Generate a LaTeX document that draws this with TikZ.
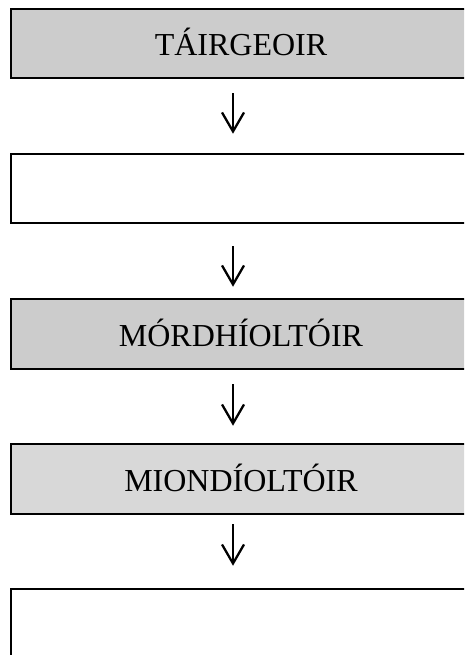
\documentclass[tikz,border=0pt]{standalone}
\usepackage{fontspec}
\setmainfont{Liberation Serif}
\usepackage{xcolor}
\usepackage{tikz}
\usetikzlibrary{arrows.meta, positioning}
\definecolor{boxgray}{HTML}{CCCCCC}
\definecolor{boxlight}{HTML}{D8D8D8}
\tikzset{
    box/.style={rectangle, draw, line width=2.5pt, minimum width=460pt, minimum height=69pt,
      inner sep=0pt, text height=25pt, text depth=0pt,
      font=\fontsize{32}{36}\selectfont},
    flow/.style={-{Straight Barb[length=19pt, width=22pt]}, line width=2.3pt}
}
\begin{document}
\begin{tikzpicture}[x=1pt, y=-1pt]
  \useasboundingbox (0,0) rectangle (464,655);
  \clip (0,0) rectangle (464,655);
  \node[box, fill=boxgray] (tairgeoir) at (241,43.5) {TÁIRGEOIR};
  \node[box] (blank1) at (241,188.5) {};
  \node[box, fill=boxgray, minimum height=70pt] (mordhioltoir) at (241,334) {MÓRDHÍOLTÓIR};
  \node[box, fill=boxlight, minimum height=70pt] (miondioltoir) at (241,479) {MIONDÍOLTÓIR};
  \node[box, minimum height=70pt] (blank2) at (241,624) {};
  % arrows sit a little left of the box centres
  \draw[flow, shorten <=14pt, shorten >=19pt] ([xshift=-8pt]tairgeoir.south) -- ([xshift=-8pt]blank1.north);
  \draw[flow, shorten <=22pt, shorten >=11pt] ([xshift=-8pt]blank1.south) -- ([xshift=-8pt]mordhioltoir.north);
  \draw[flow, shorten <=14pt, shorten >=17pt] ([xshift=-8pt]mordhioltoir.south) -- ([xshift=-8pt]miondioltoir.north);
  \draw[flow, shorten <=9pt, shorten >=22pt] ([xshift=-8pt]miondioltoir.south) -- ([xshift=-8pt]blank2.north);
\end{tikzpicture}
\end{document}
